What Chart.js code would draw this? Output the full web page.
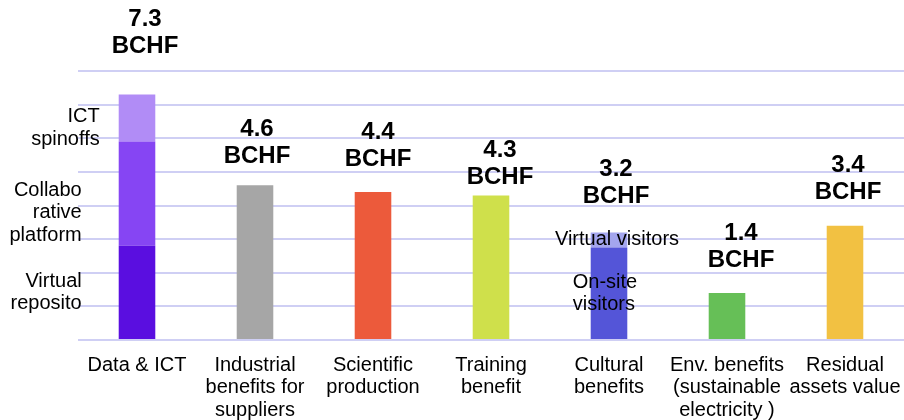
<!DOCTYPE html>
<html>
<head>
<meta charset="utf-8">
<script src="https://cdn.jsdelivr.net/npm/chart.js@4.4.1/dist/chart.umd.min.js"></script>
<style>
  html, body { margin: 0; padding: 0; background: #ffffff; }
  #wrap { width: 904px; height: 420px; position: relative; }
</style>
</head>
<body>
<div id="wrap"><canvas id="chart"></canvas></div>
<script>
// Categories (x-axis labels, one array entry per line)
const categories = [
  ['Data & ICT'],
  ['Industrial', 'benefits for', 'suppliers'],
  ['Scientific', 'production'],
  ['Training', 'benefit'],
  ['Cultural', 'benefits'],
  ['Env. benefits', '(sustainable', 'electricity )'],
  ['Residual', 'assets value']
];

// Values in BCHF
const virtualRepository     = [2.8, null, null, null, null, null, null];
const collaborativePlatform = [3.1, null, null, null, null, null, null];
const ictSpinoffs           = [1.4, null, null, null, null, null, null];
const singleBenefits        = [null, 4.6, 4.4, 4.3, null, 1.4, 3.4];
const onSiteVisitors        = [null, null, null, null, 2.75, null, null];
const virtualVisitors       = [null, null, null, null, 0.45, null, null];

// Value axis ticks
const yTicks = [0, 1, 2, 3, 4, 5, 6, 7, 8];
const unitLabel = 'BCHF';

const FONT = '"Liberation Sans", Arial, Helvetica, sans-serif';

const singleColors = ['#000000', '#a6a6a6', '#ec5a3b', '#cfe04b', '#000000', '#66bf57', '#f2c142'];

// Segment names drawn beside their bar segments
const segmentNotes = [
  { dataset: 0, lines: ['Virtual', 'reposito'], align: 'right', dx: -37, dy: 0 },
  { dataset: 1, lines: ['Collabo', 'rative', 'platform'], align: 'right', dx: -37, dy: 19 },
  { dataset: 2, lines: ['ICT', 'spinoffs'], align: 'right', dx: -19, dy: 10 },
  { dataset: 4, lines: ['On-site', 'visitors'], align: 'left', dx: -18, dy: 0 },
  { dataset: 5, lines: ['Virtual visitors'], align: 'center', dx: 8, dy: 0 }
];

// Placement of the total labels above each bar: [x shift, gap above bar top]
const totalLabelPlacement = [[8, 48], [2, 29], [5, 33], [9, 18], [7, 36], [14, 33], [3, 33]];

const labelsPlugin = {
  id: 'barLabels',
  afterDatasetsDraw(chart) {
    const ctx = chart.ctx;
    const metas = chart.data.datasets.map((d, i) => chart.getDatasetMeta(i));
    ctx.save();
    ctx.fillStyle = '#000000';

    // segment names
    ctx.font = '20px ' + FONT;
    ctx.textBaseline = 'middle';
    const lh = 22.5;
    segmentNotes.forEach(n => {
      const meta = metas[n.dataset];
      const idx = chart.data.datasets[n.dataset].data.findIndex(v => v !== null);
      const el = meta.data[idx];
      const left = el.x - el.width / 2;
      const midY = (el.y + el.base) / 2 + n.dy;
      const x = n.align === 'center' ? el.x + n.dx : left + n.dx;
      ctx.textAlign = n.align;
      const y0 = midY - (n.lines.length - 1) * lh / 2;
      n.lines.forEach((t, k) => ctx.fillText(t, x, y0 + k * lh));
    });

    // totals above each bar
    ctx.font = 'bold 24px ' + FONT;
    ctx.textAlign = 'center';
    categories.forEach((c, i) => {
      let total = 0;
      let topY = Infinity, cx = 0;
      chart.data.datasets.forEach((ds, d) => {
        const v = ds.data[i];
        if (v !== null && v !== undefined) {
          total += v;
          const el = metas[d].data[i];
          if (el.y < topY) { topY = el.y; cx = el.x; }
        }
      });
      const [dx, gap] = totalLabelPlacement[i];
      const x = cx + dx;
      const yBottom = topY - gap;
      ctx.fillText(unitLabel, x, yBottom);
      ctx.fillText(total.toFixed(1), x, yBottom - 27);
    });
    ctx.restore();
  }
};

const barCommon = { barPercentage: 0.31, categoryPercentage: 1.0, borderWidth: 0 };

new Chart(document.getElementById('chart'), {
  type: 'bar',
  data: {
    labels: categories,
    datasets: [
      Object.assign({ label: 'Virtual repository', data: virtualRepository, backgroundColor: '#5a0ee0' }, barCommon),
      Object.assign({ label: 'Collaborative platform', data: collaborativePlatform, backgroundColor: '#8645f3' }, barCommon),
      Object.assign({ label: 'ICT spinoffs', data: ictSpinoffs, backgroundColor: '#b18cf6' }, barCommon),
      Object.assign({ label: 'Benefit', data: singleBenefits, backgroundColor: singleColors }, barCommon),
      Object.assign({ label: 'On-site visitors', data: onSiteVisitors, backgroundColor: '#5455d8' }, barCommon),
      Object.assign({ label: 'Virtual visitors', data: virtualVisitors, backgroundColor: '#a4a6ee' }, barCommon)
    ]
  },
  options: {
    responsive: true,
    maintainAspectRatio: false,
    animation: false,
    layout: { padding: { top: 71, right: 0, bottom: 0, left: 0 } },
    plugins: {
      legend: { display: false },
      tooltip: { enabled: false }
    },
    scales: {
      x: {
        stacked: true,
        grid: { display: false, drawTicks: false },
        border: { display: false },
        ticks: {
          color: '#000000',
          font: { family: FONT, size: 20, lineHeight: 1.12 },
          padding: 14,
          maxRotation: 0,
          autoSkip: false
        },
        afterFit(scale) {
          scale.height = 80;
          scale.paddingLeft = 0;
          scale.paddingRight = 0;
        }
      },
      y: {
        stacked: true,
        min: yTicks[0],
        max: yTicks[yTicks.length - 1],
        afterBuildTicks(scale) { scale.ticks = yTicks.map(v => ({ value: v })); },
        grid: { color: '#cfcff4', lineWidth: 2, drawTicks: false },
        border: { display: false },
        ticks: { display: false },
        afterFit(scale) {
          scale.width = 78;
          scale.paddingTop = 0;
          scale.paddingBottom = 0;
        }
      }
    }
  },
  plugins: [labelsPlugin]
});
</script>
</body>
</html>
